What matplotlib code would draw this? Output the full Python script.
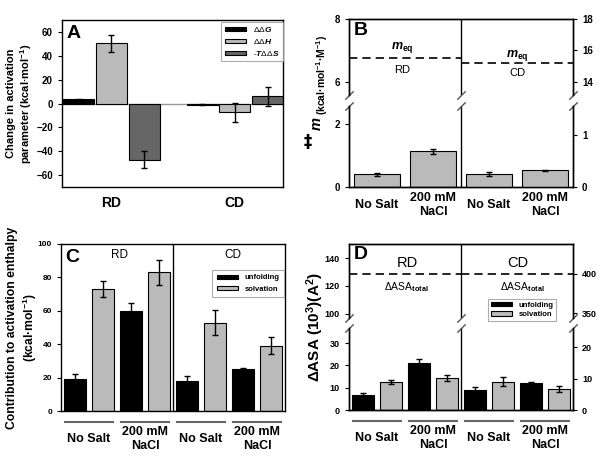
import matplotlib
matplotlib.use("Agg")
import matplotlib.pyplot as plt
import matplotlib.transforms as mtransforms
import numpy as np

plt.rcParams['font.family'] = ['Liberation Sans', 'DejaVu Sans']
plt.rcParams['font.weight'] = 'bold'
plt.rcParams['axes.labelweight'] = 'bold'
plt.rcParams['mathtext.fontset'] = 'custom'
plt.rcParams['mathtext.rm'] = 'Liberation Sans'
plt.rcParams['mathtext.it'] = 'Liberation Sans:italic'
plt.rcParams['mathtext.bf'] = 'Liberation Sans:bold'
plt.rcParams['axes.linewidth'] = 1.0

# ---- data ----
# A: change in activation parameter (kcal/mol)
groups_a = ['RD', 'CD']
ddG = [3.5, -1.0]
ddG_err = [0.6, 0.5]
ddH = [50.5, -7.5]
ddH_err = [7.2, 8.0]
mTdS = [-47.0, 6.0]
mTdS_err = [7.0, 7.9]

# B: m-values, RD on left axis, CD on right axis
conditions = ['No Salt', '200 mM\nNaCl']
m_rd = [0.40, 1.13]
m_rd_err = [0.05, 0.09]
m_cd = [0.242, 0.318]
m_cd_err = [0.04, 0.016]
meq_rd = 6.76
meq_cd = 15.2

# C: contribution to activation enthalpy (RD no salt, RD NaCl, CD no salt, CD NaCl)
unf_H = [19.4, 60.0, 18.2, 25.0]
unf_H_err = [2.6, 4.4, 3.0, 1.0]
solv_H = [73.0, 83.0, 52.8, 39.2]
solv_H_err = [4.6, 7.5, 7.5, 5.0]

# D: delta ASA, RD on left axis, CD on right axis
unf_asa_rd = [6.8, 21.2]
unf_asa_rd_err = [0.9, 1.5]
solv_asa_rd = [12.5, 14.4]
solv_asa_rd_err = [1.0, 1.2]
unf_asa_cd = [6.45, 8.7]
unf_asa_cd_err = [0.75, 0.3]
solv_asa_cd = [9.1, 6.8]
solv_asa_cd_err = [1.4, 0.9]
asa_total_rd = 128.3
asa_total_cd = 400

BLACK = 'black'
LIGHT = '#bababa'
DARK = '#666666'
err_kw = dict(elinewidth=1, capthick=1, ecolor='black')

W, H = 601, 470
fig = plt.figure(figsize=(W / 100, H / 100), dpi=100)


def rect(l, t, r, b):
    return [l / W, 1 - b / H, (r - l) / W, (b - t) / H]


def center_labels(ax, pad):
    ax.tick_params(axis='x', length=0, pad=pad, labelsize=9)
    for lbl in ax.get_xticklabels():
        lbl.set_verticalalignment('center')
        lbl.set_multialignment('center')


def breaks(ax_lo, ax_hi, xs):
    kw = dict(marker=[(-1, -1), (1, 1)], markersize=6, linestyle='none',
              color='#555555', mec='#555555', mew=1, clip_on=False)
    for x in xs:
        ax_lo.plot([x], [1], transform=ax_lo.transAxes, **kw)
        ax_hi.plot([x], [0], transform=ax_hi.transAxes, **kw)


def group_lines(ax):
    trans = mtransforms.offset_copy(ax.get_xaxis_transform(), fig=fig, y=-8, units='points')
    for k in range(4):
        ax.plot([k - 0.43, k + 0.43], [0, 0], transform=trans, color='#666666',
                lw=1.5, clip_on=False)


# ---------------- A ----------------
ax_a = fig.add_axes(rect(62, 20, 283, 187))
xa = np.arange(len(groups_a))
ax_a.bar(xa - 0.265, ddG, 0.25, yerr=ddG_err, color=BLACK, edgecolor='black', lw=0.8,
         capsize=2.5, error_kw=err_kw, label='ΔΔ$G$', zorder=2)
ax_a.bar(xa, ddH, 0.25, yerr=ddH_err, color=LIGHT, edgecolor='black', lw=0.8,
         capsize=2.5, error_kw=err_kw, label='ΔΔ$H$', zorder=2)
ax_a.bar(xa + 0.265, mTdS, 0.25, yerr=mTdS_err, color=DARK, edgecolor='black', lw=0.8,
         capsize=2.5, error_kw=err_kw, label='-$T$ΔΔ$S$', zorder=2)
ax_a.axhline(0, color='#999999', lw=1, zorder=1)
ax_a.set_xlim(-0.4, 1.39)
ax_a.set_ylim(-70, 70)
ax_a.set_yticks(range(-60, 61, 20))
ax_a.tick_params(axis='y', labelsize=7, length=3, direction='out')
ax_a.set_xticks(xa, groups_a, fontsize=10)
center_labels(ax_a, 11.5)
for lbl in ax_a.get_xticklabels():
    lbl.set_fontsize(10)
ax_a.set_ylabel('Change in activation\nparameter (kcal·mol$^{\\mathbf{-1}}$)', fontsize=8)
ax_a.yaxis.set_label_coords(-0.125, 0.5)
leg = ax_a.legend(loc='upper right', bbox_to_anchor=(1.0, 0.99), borderaxespad=0,
                  fancybox=False, edgecolor='#999999', handlelength=2.6, handleheight=0.5,
                  prop=dict(size=6, weight='normal'), labelspacing=0.35)
leg.get_frame().set_linewidth(0.8)
ax_a.text(0.02, 0.97, 'A', transform=ax_a.transAxes, fontsize=14, va='top')

# ---------------- B ----------------
axB_lo = fig.add_axes(rect(349, 106, 573, 187))
axB_hi = fig.add_axes(rect(349, 19, 573, 95))
axB_lo2 = axB_lo.twinx()
axB_hi2 = axB_hi.twinx()
xb = np.arange(4)
axB_lo.bar(xb[:2], m_rd, 0.82, yerr=m_rd_err, color=LIGHT, edgecolor='black', lw=0.8,
           capsize=2.5, error_kw=err_kw)
axB_lo2.bar(xb[2:], m_cd, 0.82, yerr=m_cd_err, color=LIGHT, edgecolor='black', lw=0.8,
            capsize=2.5, error_kw=err_kw)
axB_lo.set_ylim(0, 2.571)
axB_lo2.set_ylim(0, 1.549)
axB_hi.set_ylim(5.587, 8)
axB_hi2.set_ylim(13.17, 18)
axB_lo.set_yticks([0, 2])
axB_lo2.set_yticks([0, 1])
axB_hi.set_yticks([6, 8])
axB_hi2.set_yticks([14, 16, 18])
for a in (axB_lo, axB_hi, axB_lo2, axB_hi2):
    a.set_xlim(-0.5, 3.5)
    a.tick_params(axis='y', labelsize=7, length=3, direction='out')
for a in (axB_lo, axB_lo2):
    a.spines['top'].set_visible(False)
for a in (axB_hi, axB_hi2):
    a.spines['bottom'].set_visible(False)
axB_hi.set_xticks([])
axB_lo.set_xticks(xb, conditions * 2)
center_labels(axB_lo, 13)
axB_lo.axvline(1.5, color='black', lw=1)
axB_hi.axvline(1.5, color='black', lw=1)
axB_hi.hlines(meq_rd, -0.5, 1.5, colors='black', linestyles=(0, (5, 3)), lw=1.2)
axB_hi2.hlines(meq_cd, 1.5, 3.5, colors='black', linestyles=(0, (5, 3)), lw=1.2)
axB_hi.text(0.45, 7.11, '$m_{\\mathrm{eq}}$', ha='center', va='center', fontsize=9)
axB_hi.text(0.45, 6.38, 'RD', ha='center', va='center', fontsize=8, fontweight='normal')
axB_hi2.text(2.5, 15.7, '$m_{\\mathrm{eq}}$', ha='center', va='center', fontsize=9)
axB_hi2.text(2.5, 14.57, 'CD', ha='center', va='center', fontsize=8, fontweight='normal')
axB_hi.text(0.02, 0.96, 'B', transform=axB_hi.transAxes, fontsize=14, va='top')
breaks(axB_lo, axB_hi, [0, 0.5, 1])
fig.text(317 / W, 1 - 130 / H, 'm', rotation=90, ha='center', va='bottom',
         fontsize=10.5, style='italic')
fig.text(322 / W, 1 - 115 / H, '(kcal·mol$^{\\mathbf{-1}}$·M$^{\\mathbf{-1}}$)', rotation=90,
         ha='center', va='bottom', fontsize=7.5)
fig.text(308 / W, 1 - 142 / H, '\u2021', ha='center', va='center', fontsize=12,
         family='DejaVu Sans', fontweight='bold')

# ---------------- C ----------------
ax_c = fig.add_axes(rect(61, 244, 285, 411))
xc = np.arange(4)
ax_c.bar(xc - 0.25, unf_H, 0.41, yerr=unf_H_err, color=BLACK, edgecolor='black', lw=0.8,
         capsize=2.5, error_kw=err_kw, label='unfolding')
ax_c.bar(xc + 0.25, solv_H, 0.41, yerr=solv_H_err, color=LIGHT, edgecolor='black', lw=0.8,
         capsize=2.5, error_kw=err_kw, label='solvation')
ax_c.axvline(1.5, color='black', lw=1)
ax_c.set_xlim(-0.5, 3.5)
ax_c.set_ylim(0, 100)
ax_c.set_yticks(range(0, 101, 20))
ax_c.tick_params(axis='y', labelsize=6, length=3, direction='out')
ax_c.set_xticks(xc, conditions * 2)
center_labels(ax_c, 20)
group_lines(ax_c)
ax_c.set_ylabel('Contribution to activation enthalpy\n(kcal·mol$^{\\mathbf{-1}}$)', fontsize=8.7)
ax_c.yaxis.set_label_coords(-0.1, 0.5)
ax_c.text(0.55, 93.4, 'RD', ha='center', va='center', fontsize=8.5, fontweight='normal')
ax_c.text(2.57, 93.4, 'CD', ha='center', va='center', fontsize=8.5, fontweight='normal')
ax_c.text(0.02, 0.97, 'C', transform=ax_c.transAxes, fontsize=14, va='top')
leg = ax_c.legend(loc='upper right', bbox_to_anchor=(0.995, 0.845), borderaxespad=0,
                  fancybox=False, edgecolor='#999999', handlelength=2.8, handleheight=0.5,
                  prop=dict(size=5.5, weight='bold'), labelspacing=0.55, borderpad=0.6)
leg.get_frame().set_linewidth(0.8)

# ---------------- D ----------------
axD_lo = fig.add_axes(rect(349, 328, 573, 410))
axD_hi = fig.add_axes(rect(349, 244, 573, 318))
axD_lo2 = axD_lo.twinx()
axD_hi2 = axD_hi.twinx()
xd = np.arange(4)
b_unf = axD_lo.bar(xd[:2] - 0.25, unf_asa_rd, 0.41, yerr=unf_asa_rd_err, color=BLACK,
                   edgecolor='black', lw=0.8, capsize=2.5, error_kw=err_kw)
b_solv = axD_lo.bar(xd[:2] + 0.25, solv_asa_rd, 0.41, yerr=solv_asa_rd_err, color=LIGHT,
                    edgecolor='black', lw=0.8, capsize=2.5, error_kw=err_kw)
axD_lo2.bar(xd[2:] - 0.25, unf_asa_cd, 0.41, yerr=unf_asa_cd_err, color=BLACK,
            edgecolor='black', lw=0.8, capsize=2.5, error_kw=err_kw)
axD_lo2.bar(xd[2:] + 0.25, solv_asa_cd, 0.41, yerr=solv_asa_cd_err, color=LIGHT,
            edgecolor='black', lw=0.8, capsize=2.5, error_kw=err_kw)
axD_lo.set_ylim(0, 36.8)
axD_lo2.set_ylim(0, 26.2)
axD_hi.set_ylim(96.8, 150.1)
axD_hi2.set_ylim(344.1, 437.5)
axD_lo.set_yticks([0, 10, 20, 30])
axD_lo2.set_yticks([0, 10, 20])
axD_hi.set_yticks([100, 120, 140])
axD_hi2.set_yticks([350, 400])
for a in (axD_lo, axD_hi, axD_lo2, axD_hi2):
    a.set_xlim(-0.5, 3.5)
    a.tick_params(axis='y', labelsize=6.5, length=3, direction='out')
for a in (axD_lo, axD_lo2):
    a.spines['top'].set_visible(False)
for a in (axD_hi, axD_hi2):
    a.spines['bottom'].set_visible(False)
axD_hi.set_xticks([])
axD_lo.set_xticks(xd, conditions * 2)
center_labels(axD_lo, 20)
group_lines(axD_lo)
axD_lo.axvline(1.5, color='black', lw=1)
axD_hi.axvline(1.5, color='black', lw=1)
axD_hi.hlines(asa_total_rd, -0.5, 1.5, colors='black', linestyles=(0, (5, 3)), lw=1.2)
axD_hi2.hlines(asa_total_cd, 1.5, 3.5, colors='black', linestyles=(0, (5, 3)), lw=1.2)
axD_hi.text(0.55, 136.5, 'RD', ha='center', va='center', fontsize=10.5, fontweight='normal')
axD_hi.text(0.53, 119, 'ΔASA$_{\\mathrm{total}}$', ha='center', va='center', fontsize=7.5,
            fontweight='normal')
axD_hi2.text(2.52, 413.5, 'CD', ha='center', va='center', fontsize=10.5, fontweight='normal')
axD_hi2.text(2.6, 383, 'ΔASA$_{\\mathrm{total}}$', ha='center', va='center', fontsize=7.5,
             fontweight='normal')
axD_hi.text(0.02, 0.97, 'D', transform=axD_hi.transAxes, fontsize=14, va='top')
breaks(axD_lo, axD_hi, [0, 0.5, 1])
leg = axD_hi2.legend([b_unf, b_solv], ['unfolding', 'solvation'], loc='upper left',
                     bbox_to_anchor=(0.62, 0.26), borderaxespad=0, fancybox=False,
                     edgecolor='#999999', handlelength=2.8, handleheight=0.5,
                     prop=dict(size=5.5, weight='bold'), labelspacing=0.3)
leg.get_frame().set_linewidth(0.8)
fig.text(315 / W, 1 - 327 / H, 'ΔASA (10$^{\\mathbf{3}}$)(A$^{\\mathbf{2}}$)', rotation=90,
         ha='center', va='center', fontsize=11)

fig.savefig('out.png', dpi=100)
